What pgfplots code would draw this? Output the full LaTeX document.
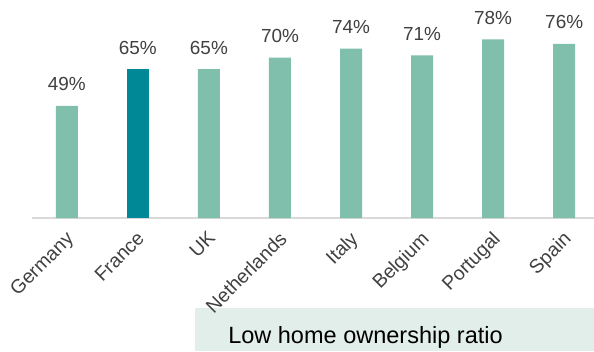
\documentclass[border=0pt]{standalone}
\usepackage{pgfplots}
\pgfplotsset{compat=1.18}
\usepackage{fontspec}
\setmainfont{Liberation Sans}
\definecolor{barlight}{HTML}{80BFAC}
\definecolor{bardark}{HTML}{008896}
\definecolor{txt}{HTML}{404040}
\definecolor{boxbg}{HTML}{E2EEE9}
\definecolor{axisgray}{HTML}{D9D9D9}
\begin{document}
\begin{tikzpicture}[x=1bp,y=1bp]
\useasboundingbox (0,0) rectangle (594,351);
\fill[boxbg] (195,0) rectangle (594,43);
\node[font=\fontsize{23.6}{25}\selectfont, text=black, anchor=base, inner sep=0pt] at (365.5,8) {Low home ownership ratio};
\begin{axis}[
  at={(32bp,133bp)}, anchor=south west,
  scale only axis, width=562bp, height=218bp,
  xmin=-0.49, xmax=7.42, ymin=0, ymax=95.2,
  axis x line*=bottom, axis y line=none,
  x axis line style={-, draw=axisgray, line width=1.5bp},
  xtick={0,...,7},
  xticklabels={Germany,France,UK,Netherlands,Italy,Belgium,Portugal,Spain},
  major tick length=0pt,
  xticklabel style={xshift=-2bp, yshift=-12bp, rotate=45, anchor=north east, font=\fontsize{19.5}{21}\selectfont, text=txt, inner sep=0pt},
  ybar, bar width=22bp, bar shift=0pt,
  nodes near coords={\pgfmathprintnumber{\pgfplotspointmeta}\%},
  /pgf/number format/assume math mode=true,
  every node near coord/.append style={font=\fontsize{19}{21}\selectfont, text=txt, anchor=base, yshift=15bp, inner sep=0pt},
  clip=false,
]
\addplot[fill=barlight, draw=none] coordinates {(0,49) (2,65) (3,70) (4,74) (5,71) (6,78) (7,76)};
\addplot[fill=bardark, draw=none] coordinates {(1,65)};
\end{axis}
\end{tikzpicture}
\end{document}
